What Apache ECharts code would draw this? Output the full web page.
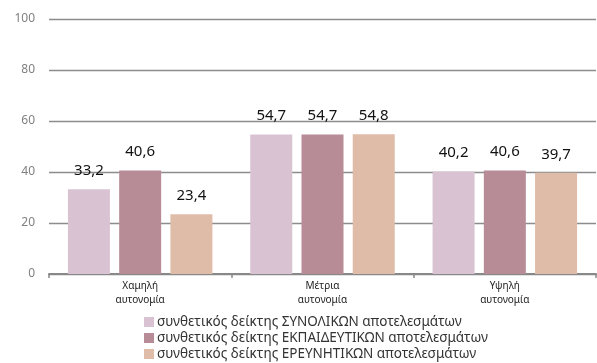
<!DOCTYPE html>
<html>
<head>
<meta charset="utf-8">
<script src="https://cdn.jsdelivr.net/npm/echarts@6/dist/echarts.min.js"></script>
<style>
  html, body { margin: 0; padding: 0; background: #fff; }
  #chart { width: 597px; height: 363px; }
</style>
</head>
<body>
<div id="chart"></div>
<script>
// κατηγορίες και τιμές
const categories = ['Χαμηλή\nαυτονομία', 'Μέτρια\nαυτονομία', 'Υψηλή\nαυτονομία'];
const seriesNames = [
    'συνθετικός δείκτης ΣΥΝΟΛΙΚΩΝ αποτελεσμάτων',
    'συνθετικός δείκτης ΕΚΠΑΙΔΕΥΤΙΚΩΝ αποτελεσμάτων',
    'συνθετικός δείκτης ΕΡΕΥΝΗΤΙΚΩΝ αποτελεσμάτων'
];
const totalValues = [33.2, 54.7, 40.2];
const educationValues = [40.6, 54.7, 40.6];
const researchValues = [23.4, 54.8, 39.7];
const yTicks = [0, 20, 40, 60, 80, 100];

const colors = ['#D9C3D3', '#B88C96', '#DFBCA8'];
const font = '"Noto Sans", "Open Sans", sans-serif';

const chart = echarts.init(document.getElementById('chart'));

const makeSeries = (name, data, i) => ({
    name: name,
    type: 'bar',
    data: data,
    barWidth: 42,
    barGap: '22%',
    itemStyle: { color: colors[i] },
    label: {
        show: true,
        position: 'top',
        distance: 11,
        color: '#111',
        fontSize: 15,
        fontFamily: font,
        formatter: p => p.value.toFixed(1).replace('.', ',')
    }
});

chart.setOption({
    animation: false,
    textStyle: { fontFamily: font },
    grid: { left: 49, right: 1, top: 19, bottom: 89 },
    legend: {
        orient: 'vertical',
        left: 144,
        top: 315,
        padding: 0,
        itemWidth: 10,
        itemHeight: 10,
        itemGap: 2,
        icon: 'rect',
        textStyle: { fontSize: 13.5, lineHeight: 14, color: '#333', fontFamily: font, padding: [0, 0, 0, -2] },
        data: seriesNames
    },
    xAxis: {
        type: 'category',
        data: categories,
        axisLine: { lineStyle: { color: '#888', width: 2 } },
        axisTick: { show: true, length: 4, lineStyle: { color: '#888', width: 1.5 } },
        axisLabel: { color: '#222', fontSize: 10, lineHeight: 14, margin: 5 }
    },
    yAxis: {
        type: 'value',
        min: yTicks[0],
        max: yTicks[yTicks.length - 1],
        interval: 20,
        axisLine: { show: false },
        axisTick: { show: false },
        axisLabel: { color: '#808080', fontSize: 12, margin: 14 },
        splitLine: { lineStyle: { color: '#8c8c8c', width: 1.3 } }
    },
    series: [
        makeSeries(seriesNames[0], totalValues, 0),
        makeSeries(seriesNames[1], educationValues, 1),
        makeSeries(seriesNames[2], researchValues, 2)
    ]
});
</script>
</body>
</html>
